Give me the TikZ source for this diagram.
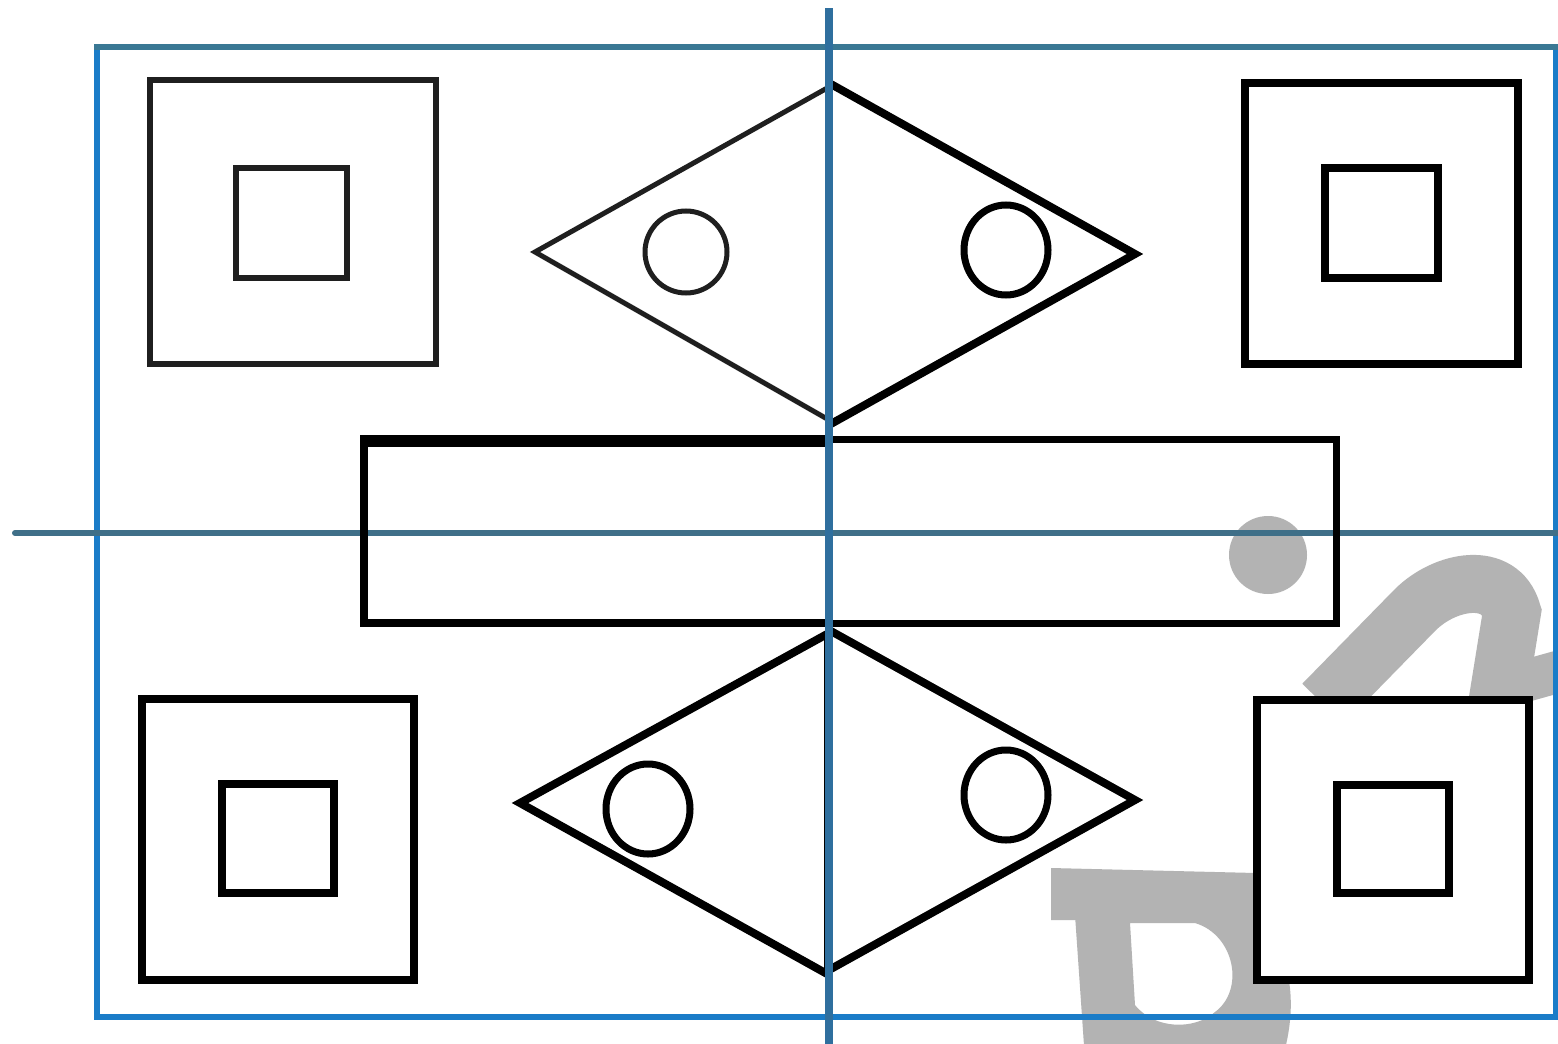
\documentclass[tikz,border=0pt]{standalone}
\begin{document}
\begin{tikzpicture}[x=1pt,y=-1pt,
  ink/.style={draw=black,line width=8pt,line join=miter},
  thinink/.style={draw=black!88,line width=5pt,line join=miter},
  sq/.style={ink,fill=white},
  wm/.style={fill=wmgray,draw=none}]
\definecolor{blueA}{HTML}{1A7CC8}
\definecolor{blueT}{HTML}{3A7894}
\definecolor{blueV}{HTML}{2F6F9E}
\definecolor{blueH}{HTML}{3F6F88}
\definecolor{wmgray}{HTML}{B3B3B3}
\useasboundingbox (0,0) rectangle (1558,1044);
\fill[white] (0,0) rectangle (1558,1044);
\begin{scope}
\clip (0,0) rectangle (1558,1044);
% watermark
\fill[wm] (1268,555) circle[radius=39];
\draw[wmgray,line width=58pt] (1323,704) -- (1415,610) .. controls (1445,580) and (1500,570) .. (1512,612) -- (1497,705);
\draw[wmgray,line width=42pt] (1500,688) -- (1575,667);
\fill[wm] (1051,868) -- (1256,873) -- (1256,920) -- (1051,920) -- cycle;
\fill[wm,even odd rule] (1075,915) -- (1085,1060) -- (1282,1060) .. controls (1300,1000) and (1290,950) .. (1256,915) -- cycle
  (1130,923) -- (1195,923) .. controls (1235,935) and (1245,990) .. (1215,1012) .. controls (1195,1030) and (1155,1030) .. (1135,1005) -- cycle;
% frame and horizontal axis
\draw[blueA,line width=6pt] (97,45) -- (97,1017) -- (1556,1017) -- (1556,45);
\draw[blueT,line width=6pt] (94,47) -- (1558,47);
\draw[blueH,line width=6pt,line cap=round] (15,533) -- (1558,533);
% squares
\draw[sq,line width=6pt,draw=black!88] (150,80) rectangle (436,364);
\draw[line width=6pt,draw=black!88] (236,168) rectangle (347,278);
\draw[sq] (1245,83) rectangle (1518,364);
\draw[ink] (1325,168) rectangle (1438,278);
\draw[sq] (142,699) rectangle (414,980);
\draw[ink] (222,784) rectangle (334,893);
\draw[sq] (1257,700) rectangle (1529,980);
\draw[ink] (1337,785) rectangle (1449,893);
% long rectangle
\draw[ink] (829,441) -- (364,441) -- (364,623) -- (829,623);
\draw[black,line width=12pt] (360,441) -- (829,441);
\draw[black,line width=7pt] (829,439) -- (1336,439) -- (1336,623) -- (826,623);
% kites
\draw[thinink] (829,87) -- (535,252) -- (829,420);
\draw[thinink] (686,252) ellipse[x radius=41,y radius=41];
\draw[ink] (829,83) -- (1135,254) -- (829,425);
\draw[black,line width=7pt] (1006,250) ellipse[x radius=42,y radius=45];
\draw[ink] (829,633) -- (520,803) -- (829,975);
\draw[black,line width=7pt] (648,809) ellipse[x radius=42,y radius=45];
\draw[ink] (829,630) -- (1135,800) -- (829,970);
\draw[black,line width=7pt] (1006,795) ellipse[x radius=42,y radius=45];
\draw[black,line width=3pt] (825,633) -- (825,975);
% vertical axis
\draw[blueV,line width=8pt] (829,8) -- (829,1044);
\end{scope}
\end{tikzpicture}
\end{document}
